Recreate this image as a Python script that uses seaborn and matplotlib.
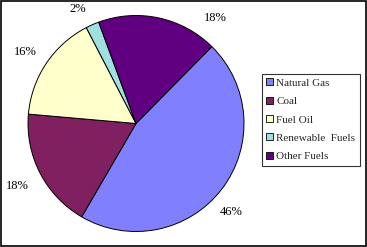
import matplotlib
matplotlib.use("Agg")
import matplotlib.pyplot as plt
import seaborn as sns
import numpy as np
from matplotlib.patches import Rectangle

sns.set_theme(style="white")
plt.rcParams['font.family'] = ['Liberation Serif', 'DejaVu Serif']

categories = ["Natural Gas", "Coal", "Fuel Oil", "Renewable  Fuels", "Other Fuels"]
values = [46, 18, 16, 2, 18]
labels = ["46%", "18%", "16%", "2%", "18%"]
colors = ["#8080FF", "#802060", "#FFFFCC", "#A0E0E0", "#600080"]
label_angles = [-43, -152, 147, 117, 53]
label_radius = [1.2, 1.24, 1.22, 1.19, 1.22]

fig = plt.figure(figsize=(3.67, 2.47), dpi=100)
ax = fig.add_axes([(136 - 108) / 367, 1 - (123.5 + 108) / 247, 216 / 367, 216 / 247])

wedges, texts = ax.pie(values, colors=colors, startangle=45.4, counterclock=False,
                       labels=labels, labeldistance=1.2,
                       wedgeprops=dict(edgecolor="black", linewidth=0.7),
                       textprops=dict(fontsize=9, color="black"))
for t, a, r in zip(texts, label_angles, label_radius):
    t.set_position((r * np.cos(np.radians(a)), r * np.sin(np.radians(a))))
    t.set_ha("center")
    t.set_va("center")
ax.set_xlim(-1, 1)
ax.set_ylim(-1, 1)
ax.set_aspect("equal")

leg = fig.legend(wedges, categories, loc="upper left",
                 bbox_to_anchor=(262 / 367, 1 - 74 / 247), frameon=True,
                 fontsize=8, handlelength=0.6, handleheight=0.6,
                 handletextpad=0.3, labelspacing=0.8, borderpad=0.4,
                 borderaxespad=0, fancybox=False, edgecolor="black")
leg.get_frame().set_linewidth(0.8)
for h in leg.legend_handles:
    h.set_linewidth(0.6)

fig.patches.append(Rectangle((0.002, 0.003), 0.995, 0.993, transform=fig.transFigure,
                             fill=False, edgecolor="black", linewidth=1.2))

fig.savefig("out.png", dpi=100, facecolor="white")
